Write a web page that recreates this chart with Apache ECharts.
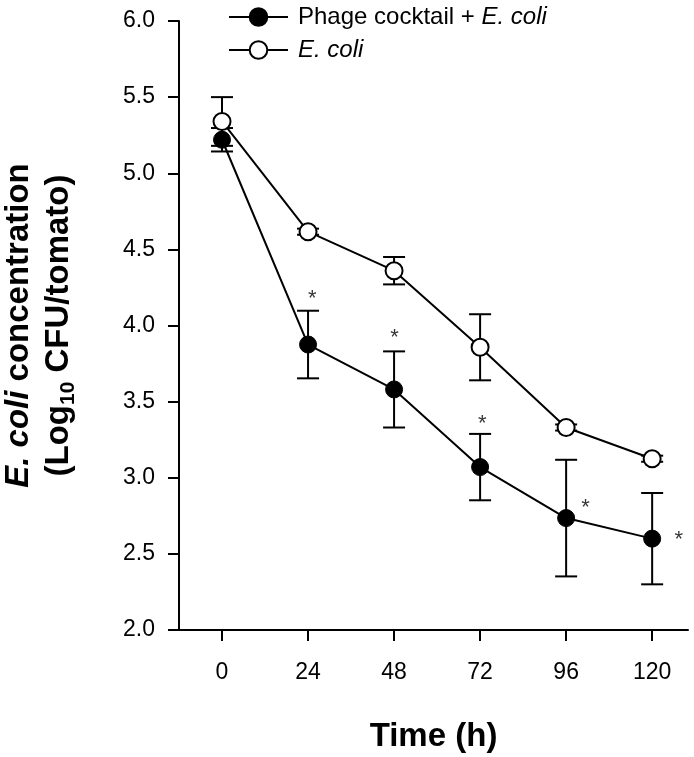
<!DOCTYPE html>
<html>
<head>
<meta charset="utf-8">
<script src="https://cdn.jsdelivr.net/npm/echarts@6/dist/echarts.min.js"></script>
<style>
html,body{margin:0;padding:0;background:#fff;}
#chart{width:694px;height:757px;}
</style>
</head>
<body>
<div id="chart"></div>
<script>
// ---- data ----
var times = [0, 24, 48, 72, 96, 120];
var xTicks = [0, 24, 48, 72, 96, 120];
var phageMean = [5.22, 3.875, 3.58, 3.07, 2.735, 2.60];
var phageErr  = [0.077, 0.222, 0.25, 0.218, 0.383, 0.30];
var ecoliMean = [5.34, 4.616, 4.36, 3.857, 3.33, 3.125];
var ecoliErr  = [0.16, 0.02, 0.09, 0.217, 0.02, 0.02];
var starX = [25.2, 48.1, 72.6, 101.4, 127.4];
var starY = [4.217, 3.96, 3.39, 2.84, 2.63];
var seriesNames = ['Phage cocktail + E. coli', 'E. coli'];

function pairs(xs, ys) { return xs.map(function (x, i) { return [x, ys[i]]; }); }
function errData(xs, m, e) { return xs.map(function (x, i) { return [x, m[i] - e[i], m[i] + e[i]]; }); }

var FONT = 'Liberation Sans, Arial, sans-serif';

function errRender(params, api) {
  var x = api.value(0);
  var lo = api.coord([x, api.value(1)]);
  var hi = api.coord([x, api.value(2)]);
  var w = 11;
  var st = { stroke: '#000', lineWidth: 2 };
  return {
    type: 'group',
    children: [
      { type: 'line', shape: { x1: lo[0], y1: lo[1], x2: hi[0], y2: hi[1] }, style: st },
      { type: 'line', shape: { x1: lo[0] - w, y1: lo[1], x2: lo[0] + w, y2: lo[1] }, style: st },
      { type: 'line', shape: { x1: hi[0] - w, y1: hi[1], x2: hi[0] + w, y2: hi[1] }, style: st }
    ]
  };
}

var chart = echarts.init(document.getElementById('chart'), null, { renderer: 'canvas' });
chart.setOption({
  animation: false,
  backgroundColor: '#fff',
  textStyle: { fontFamily: FONT, color: '#000' },
  grid: { left: 179, top: 21, right: 6, bottom: 127, containLabel: false, outerBoundsMode: 'none' },
  legend: {
    data: seriesNames,
    orient: 'vertical',
    left: 223,
    top: 0,
    itemWidth: 59,
    itemHeight: 22,
    itemGap: 9,
    textStyle: {
      fontFamily: FONT, color: '#000', fontSize: 24, padding: [0, 0, 0, 5],
      rich: {
        n: { fontFamily: FONT, fontSize: 24, color: '#000' },
        i: { fontFamily: FONT, fontSize: 24, color: '#000', fontStyle: 'italic' }
      }
    },
    formatter: function (name) {
      return name === seriesNames[0] ? '{n|Phage cocktail + }{i|E. coli}' : '{i|E. coli}';
    }
  },
  xAxis: {
    type: 'value',
    min: -12,
    max: 130,
    name: 'Time (h)',
    nameLocation: 'middle',
    nameGap: 90,
    nameTextStyle: { fontFamily: FONT, fontSize: 33, fontWeight: 'bold', color: '#000' },
    axisLine: { show: true, onZero: false, lineStyle: { color: '#000', width: 2 } },
    axisTick: { show: true, length: 11, lineStyle: { color: '#000', width: 2 }, customValues: xTicks },
    axisLabel: { fontFamily: FONT, fontSize: 23, color: '#000', margin: 31, customValues: xTicks },
    splitLine: { show: false }
  },
  yAxis: {
    type: 'value',
    min: 2,
    max: 6,
    interval: 0.5,
    name: '{bi|E. coli} {b|concentration}\n{b|(Log}{sub|10}{b| CFU/tomato)}',
    nameLocation: 'middle',
    nameRotate: 90,
    nameGap: 100,
    nameTextStyle: {
      fontFamily: FONT, fontSize: 33, fontWeight: 'bold', color: '#000', lineHeight: 40,
      rich: {
        bi: { fontFamily: FONT, fontSize: 33, fontWeight: 'bold', fontStyle: 'italic', color: '#000', lineHeight: 40 },
        b: { fontFamily: FONT, fontSize: 33, fontWeight: 'bold', color: '#000', lineHeight: 40 },
        sub: { fontFamily: FONT, fontSize: 21, fontWeight: 'bold', color: '#000', lineHeight: 40, verticalAlign: 'bottom', padding: [14, 0, 0, 0] }
      }
    },
    axisLine: { show: true, onZero: false, lineStyle: { color: '#000', width: 2 } },
    axisTick: { show: true, length: 11, lineStyle: { color: '#000', width: 2 } },
    axisLabel: { fontFamily: FONT, fontSize: 23, color: '#000', margin: 24, formatter: function (v) { return v.toFixed(1); } },
    splitLine: { show: false }
  },
  series: [
    {
      type: 'custom', name: 'errPhage', renderItem: errRender, z: 1,
      data: errData(times, phageMean, phageErr), encode: { x: 0, y: [1, 2] }, silent: true
    },
    {
      type: 'custom', name: 'errEcoli', renderItem: errRender, z: 1,
      data: errData(times, ecoliMean, ecoliErr), encode: { x: 0, y: [1, 2] }, silent: true
    },
    {
      type: 'line', name: seriesNames[1], z: 3,
      data: pairs(times, ecoliMean),
      symbol: 'circle', symbolSize: 17, showAllSymbol: true,
      lineStyle: { color: '#000', width: 2 },
      itemStyle: { color: '#fff', borderColor: '#000', borderWidth: 2 }
    },
    {
      type: 'line', name: seriesNames[0], z: 4,
      data: pairs(times, phageMean),
      symbol: 'circle', symbolSize: 17, showAllSymbol: true,
      lineStyle: { color: '#000', width: 2 },
      itemStyle: { color: '#000', borderColor: '#000', borderWidth: 1 }
    },
    {
      type: 'scatter', name: 'sig', z: 5, symbolSize: 1,
      itemStyle: { color: 'rgba(0,0,0,0)' },
      data: pairs(starX, starY),
      label: { show: true, position: 'inside', formatter: '*', fontFamily: FONT, fontSize: 22, color: '#000', offset: [0, 6] }
    }
  ]
});
</script>
</body>
</html>
